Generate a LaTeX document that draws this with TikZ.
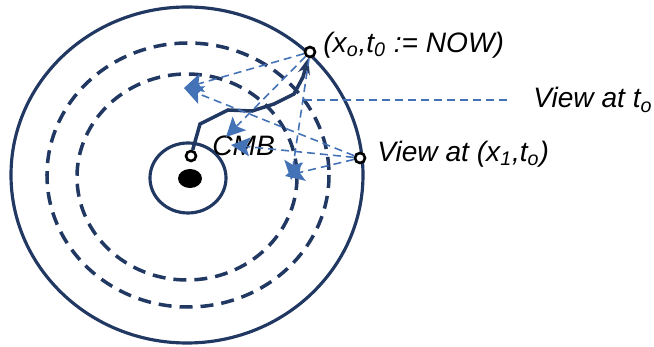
\documentclass[tikz,border=0pt]{standalone}
\usepackage{fontspec}
\setmainfont{Liberation Sans}
\usetikzlibrary{arrows.meta}
\definecolor{marino}{RGB}{33,56,98}
\definecolor{azul}{RGB}{68,114,182}
\begin{document}
\begin{tikzpicture}[x=0.02cm, y=-0.02cm,
			every node/.style={font=\fontsize{16}{18}\selectfont\itshape},
			punto/.style={circle, draw=black, line width=1.5pt, fill=white, minimum size=0.2cm, inner sep=0pt},
			borde/.style={draw=marino, line width=1.8pt},
			capa/.style={draw=marino, line width=2pt, dash pattern=on 0.26cm off 0.16cm},
			linea/.style={draw=marino, line width=2pt, -{Stealth[length=0.32cm, width=0.24cm]}},
			rayo/.style={draw=azul, line width=0.9pt, dash pattern=on 0.16cm off 0.1cm, -{Stealth[length=0.38cm, width=0.38cm, inset=0.08cm]}},
			texto/.style={anchor=west, inner sep=0pt}]
		\useasboundingbox (0,0) rectangle (654,347);
		\draw[borde] (187,175) ellipse [x radius=176, y radius=168];
		\draw[capa] (188,175) ellipse [x radius=141, y radius=132];
		\draw[capa] (187,177) ellipse [x radius=110, y radius=103];
		\draw[borde] (188,178) ellipse [x radius=38, y radius=35];
		\fill[black] (190,178.5) ellipse [x radius=12, y radius=9.5];
		\node[punto] (cmb) at (191,156) {};
		\node[punto] (now) at (310,52) {};
		\node[punto] (obs) at (360,158) {};
		\coordinate (a1) at (184,88);
		\coordinate (a2) at (226,137);
		\coordinate (a2b) at (231,145);
		\coordinate (a3) at (285,176);
		\coordinate (a3b) at (291,180);
		\coordinate (vista) at (304,100);
		\node[texto] (lnow) at (323,45) {(x\textsubscript{o},t\textsubscript{0} := NOW)};
		\node[texto] (lvt) at (533,100) {View at t\textsubscript{o}};
		\node[texto] (lobs) at (377,154) {View at (x\textsubscript{1},t\textsubscript{o})};
		\node[texto] (lcmb) at (212,146) {CMB};
		\draw[linea] (cmb) -- (200,124) -- (228,110) -- (252,111) -- (274,104) -- (294,94) -- (303,77) -- (now);
		\draw[rayo] (now) -- (a1);
		\draw[rayo] (now) -- (a2);
		\draw[rayo] (now) -- (a3b);
		\draw[rayo] (obs) -- (a1);
		\draw[rayo] (obs) -- (a2b);
		\draw[rayo] (obs) -- (a3);
		\draw[rayo, -] (vista) -- ([xshift=-0.46cm]lvt.west);
	\end{tikzpicture}
\end{document}
